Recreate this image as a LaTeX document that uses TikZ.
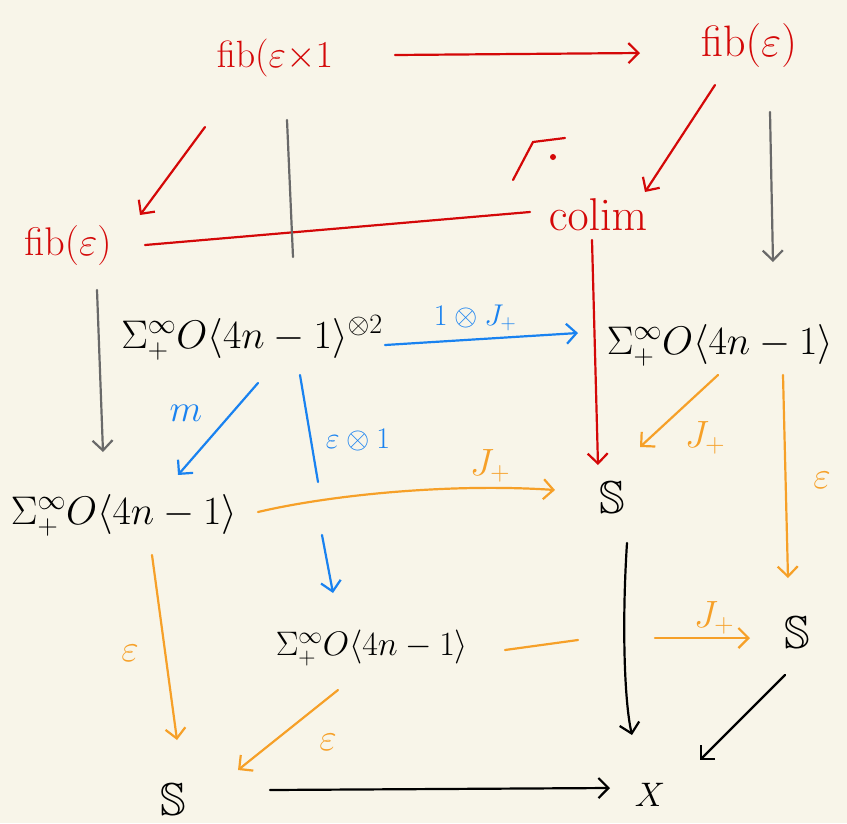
\RequirePackage{fix-cm}
\documentclass[tikz,border=0pt]{standalone}
\usepackage{amsmath,amssymb}
\usetikzlibrary{arrows.meta}
\definecolor{bgc}{RGB}{248,245,233}
\definecolor{hred}{RGB}{212,8,8}
\definecolor{hblue}{RGB}{25,130,240}
\definecolor{horange}{RGB}{246,160,40}
\definecolor{hgray}{RGB}{105,105,105}
\tikzset{
  sig/.style={font=\fontsize{40}{46}\selectfont, inner sep=0pt},
  redt/.style={text=hred, inner sep=0pt},
  sph/.style={font=\fontsize{46}{50}\selectfont, inner sep=0pt},
  lbl/.style={font=\fontsize{30}{34}\selectfont, inner sep=0pt},
  biglbl/.style={font=\fontsize{38}{42}\selectfont, inner sep=0pt},
  arr/.style={line width=2.2pt, line cap=round, -{Straight Barb[length=10pt,width=20pt,line width=2.2pt]}},
  ln/.style={line width=2.2pt, line cap=round},
}
\newcommand{\at}[3]{([shift={(#2,#3)}]#1.center)}
\begin{document}
\begin{tikzpicture}[x=1pt,y=-1pt]
\useasboundingbox[fill=bgc] (0,0) rectangle (847,823);
% nodes
\node[redt,font=\fontsize{38}{44}\selectfont] (fx) at (275,58) {$\mathrm{fib}(\varepsilon{\times}1$};
\node[redt,font=\fontsize{44}{50}\selectfont] (fr) at (749,45) {$\mathrm{fib}(\varepsilon)$};
\node[redt,font=\fontsize{40}{46}\selectfont] (fl) at (68,245) {$\mathrm{fib}(\varepsilon)$};
\node[redt,font=\fontsize{46}{50}\selectfont] (co) at (598,215) {$\mathrm{colim}$};
\node[sig] (A) at (252,338) {$\Sigma^\infty_+ O\langle 4n-1\rangle^{\otimes 2}$};
\node[sig] (B) at (720,345) {$\Sigma^\infty_+ O\langle 4n-1\rangle$};
\node[sig] (C) at (124,515) {$\Sigma^\infty_+ O\langle 4n-1\rangle$};
\node[sph] (S1) at (612,498) {$\mathbb{S}$};
\node[sig,font=\fontsize{34}{40}\selectfont] (D) at (372,648) {$\Sigma^\infty_+ O\langle 4n-1\rangle$};
\node[sph] (S2) at (797,633) {$\mathbb{S}$};
\node[sph] (S3) at (173,800) {$\mathbb{S}$};
\node[lbl,font=\fontsize{34}{40}\selectfont] (X) at (650,795) {$X$};
% corner mark
\draw[hred,ln] (513,180) -- (533,142) -- (565,138);
\fill[hred] (553,157) circle (3pt);
% red
\draw[hred,arr] \at{fx}{120}{-3} -- \at{fr}{-109}{8};
\draw[hred,arr] \at{fx}{-70}{69} -- \at{fl}{72}{-30};
\draw[hred,arr] \at{fr}{-34}{40} -- \at{co}{47}{-23};
\draw[hred,ln] \at{fl}{77}{0} -- \at{co}{-68}{-3};
\draw[hred,arr] \at{co}{-6}{25} -- \at{S1}{-14}{-33};
% gray
\coordinate (gend) at (293,257);
\draw[hgray,ln] \at{fx}{12}{62} -- (gend);
\draw[hgray,arr] \at{fr}{21}{67} -- \at{B}{53}{-83};
\draw[hgray,arr] \at{fl}{29}{45} -- \at{C}{-21}{-63};
% blue
\draw[hblue,arr] \at{A}{133}{7} -- \at{B}{-142}{-12};
\node[lbl,text=hblue] at (475,318) {$1\otimes J_+$};
\draw[hblue,arr] \at{A}{6}{45} -- \at{C}{54}{-40};
\node[biglbl,text=hblue] at (186,413) {$m$};
\coordinate (b1) at (318,482);
\coordinate (b2) at (322,535);
\draw[hblue,ln] \at{A}{48}{37} -- (b1);
\draw[hblue,arr] (b2) -- \at{D}{-39}{-55};
\node[lbl,text=hblue] at (358,440) {$\varepsilon\otimes 1$};
% orange
\draw[horange,arr] \at{C}{134}{-3} .. controls (330,495) and (450,483) .. \at{S1}{-57}{-8};
\node[biglbl,text=horange] at (490,466) {$J_+$};
\draw[horange,arr] \at{B}{-2}{30} -- \at{S1}{28}{-51};
\node[biglbl,text=horange] at (705,438) {$J_+$};
\draw[horange,arr] \at{B}{63}{30} -- \at{S2}{-9}{-55};
\node[biglbl,text=horange] at (822,480) {$\varepsilon$};
\draw[horange,arr] \at{C}{28}{40} -- \at{S3}{4}{-60};
\node[biglbl,text=horange] at (130,653) {$\varepsilon$};
\draw[horange,arr] \at{D}{-34}{42} -- \at{S3}{65}{-30};
\node[biglbl,text=horange] at (328,742) {$\varepsilon$};
\coordinate (o1) at (578,640);
\coordinate (o2) at (655,638);
\draw[horange,ln] \at{D}{133}{2} -- (o1);
\draw[horange,arr] (o2) -- \at{S2}{-47}{5};
\node[biglbl,text=horange] at (714,618) {$J_+$};
% black
\draw[black,arr] \at{S1}{15}{45} .. controls (622,620) and (624,700) .. \at{X}{-18}{-60};
\draw[black,arr] \at{S2}{-12}{42} -- \at{X}{50}{-35};
\draw[black,arr] \at{S3}{97}{-10} -- \at{X}{-40}{-7};
\end{tikzpicture}
\end{document}
